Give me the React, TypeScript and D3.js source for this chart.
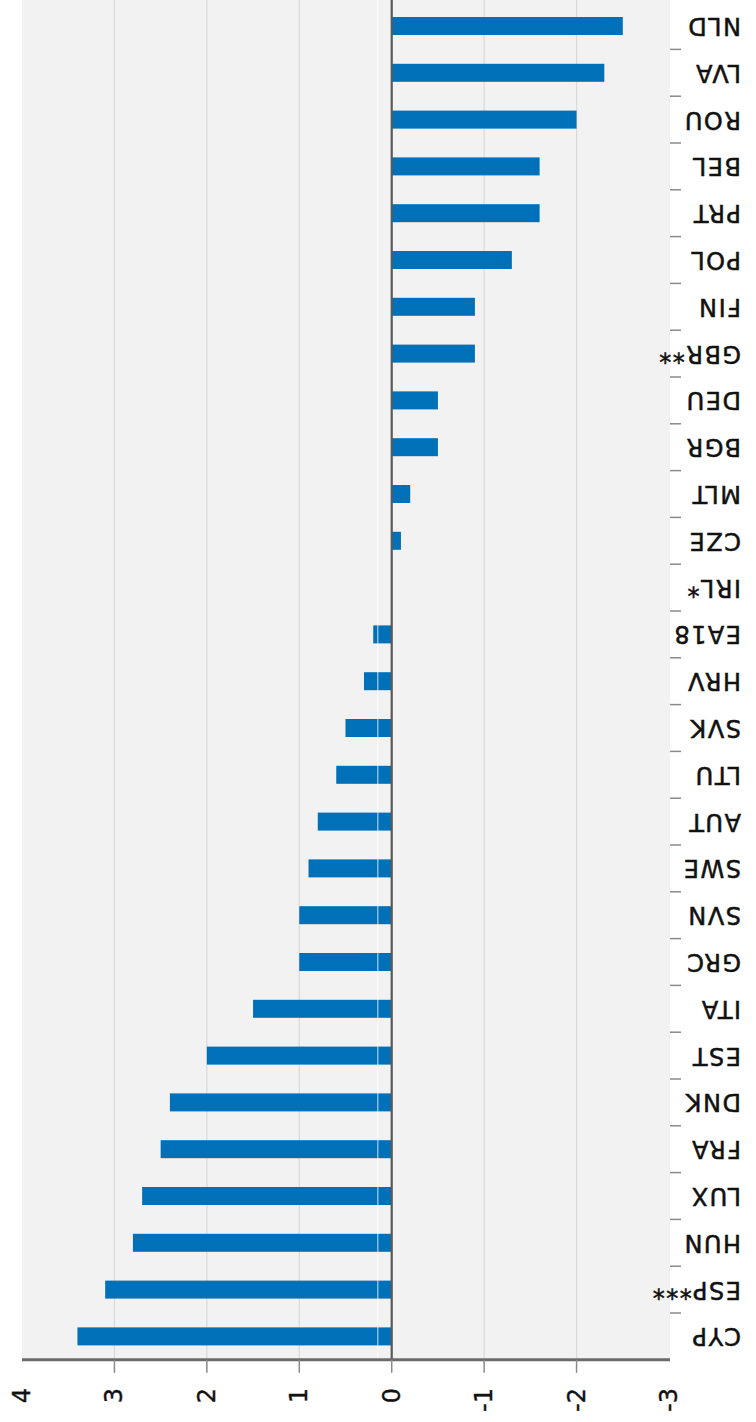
import React from "react";
import * as d3 from "d3";

// chart is shown turned upside down, so labels are rotated too
const categories = [
  "NLD", "LVA", "ROU", "BEL", "PRT", "POL", "FIN", "GBR**", "DEU", "BGR",
  "MLT", "CZE", "IRL*", "EA18", "HRV", "SVK", "LTU", "AUT", "SWE", "SVN",
  "GRC", "ITA", "EST", "DNK", "FRA", "LUX", "HUN", "ESP***", "CYP",
];
const values = [
  -2.5, -2.3, -2.0, -1.6, -1.6, -1.3, -0.9, -0.9, -0.5, -0.5,
  -0.2, -0.1, 0, 0.2, 0.3, 0.5, 0.6, 0.8, 0.9, 1.0,
  1.0, 1.5, 2.0, 2.4, 2.5, 2.7, 2.8, 3.1, 3.4,
];
const tickValues = [4, 3, 2, 1, 0, -1, -2, -3];
const tickLabels = ["4", "3", "2", "1", "0", "-1", "-2", "-3"];
const gridValues = [3, 2, 1, -1, -2];

const W = 756;
const H = 1422;
const left = 22;
const right = 670;
const axisY = 1359.8;

const App = () => {
  const x = d3.scaleLinear().domain([4, -3]).range([left, right - 1]);
  const y = d3.scaleBand().domain(categories).range([2.6, axisY]).padding(0);
  const step = y.step();
  const barH = 18;
  const fontFam = "'DejaVu Sans', Verdana, sans-serif";

  return (
    <svg
      width={W}
      height={H}
      style={{ position: "absolute", left: 0, top: 0, background: "#fff" }}
    >
      <rect x={left} y={0} width={right - left} height={axisY} fill="#f2f2f2" />
      {gridValues.map((v) => (
        <line
          key={"g" + v}
          x1={x(v)}
          x2={x(v)}
          y1={0}
          y2={axisY}
          stroke="#d9d9d9"
          strokeWidth={1.2}
        />
      ))}
      {categories.map((c, i) => {
        const v = values[i];
        const x0 = Math.min(x(0), x(v));
        const w = Math.abs(x(v) - x(0));
        return (
          <rect
            key={c}
            x={x0}
            y={y(c) + (step - barH) / 2}
            width={w}
            height={barH}
            fill="#0070b8"
          />
        );
      })}
      {/* faint white line near zero */}
      <line
        x1={x(0.15)}
        x2={x(0.15)}
        y1={0}
        y2={axisY}
        stroke="#ffffff"
        strokeOpacity={0.8}
        strokeWidth={1}
      />
      <line
        x1={x(0)}
        x2={x(0)}
        y1={0}
        y2={axisY}
        stroke="#595959"
        strokeWidth={2.2}
      />
      {/* value axis */}
      <line x1={left} x2={right} y1={axisY} y2={axisY} stroke="#6b6b6b" strokeWidth={3} />
      {tickValues.map((v, i) => (
        <g key={"t" + v}>
          {i > 0 && i < tickValues.length - 1 && (
            <line
              x1={x(v)}
              x2={x(v)}
              y1={axisY}
              y2={axisY + 13}
              stroke="#8a8a8a"
              strokeWidth={1.5}
            />
          )}
          <text
            transform={`translate(${x(v)},${1388}) rotate(-90)`}
            textAnchor="end"
            dominantBaseline="central"
            fontFamily={fontFam}
            fontSize={24}
            stroke="#111"
            strokeWidth={0.4}
            fill="#111"
          >
            {tickLabels[i]}
          </text>
        </g>
      ))}
      {/* category axis */}
      {categories.slice(1).map((c) => (
        <line
          key={"ct" + c}
          x1={right}
          x2={right + 11}
          y1={y(c)}
          y2={y(c)}
          stroke="#8a8a8a"
          strokeWidth={1.5}
        />
      ))}
      {categories.map((c) => (
        <text
          key={"cl" + c}
          transform={`translate(741,${y(c) + step / 2}) rotate(180)`}
          textAnchor="start"
          dominantBaseline="central"
          fontFamily={fontFam}
          fontSize={24}
          letterSpacing={1.5}
          stroke="#111"
          strokeWidth={0.5}
          fill="#111"
        >
          {c}
        </text>
      ))}
    </svg>
  );
};

export default App;
